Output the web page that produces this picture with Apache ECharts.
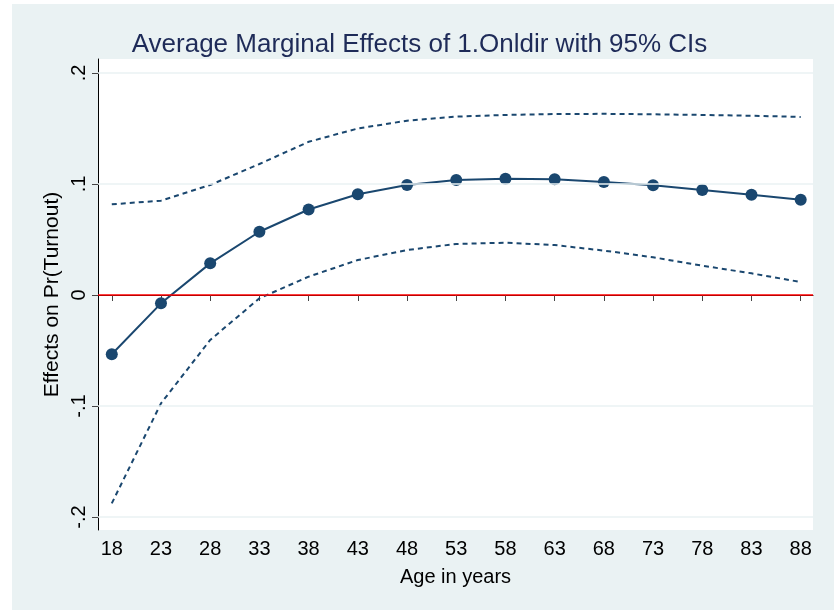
<!DOCTYPE html>
<html>
<head>
<meta charset="utf-8">
<script src="https://cdn.jsdelivr.net/npm/echarts@6/dist/echarts.min.js"></script>
<style>
html,body{margin:0;padding:0;background:#ffffff;}
#bg{position:absolute;left:12px;top:4px;width:822px;height:606px;background:#EAF2F3;}
#chart{position:absolute;left:0;top:0;width:839px;height:610px;}
</style>
</head>
<body>
<div id="bg"></div>
<div id="chart"></div>
<script>
const ages = [18, 23, 28, 33, 38, 43, 48, 53, 58, 63, 68, 73, 78, 83, 88];
const effect = [-0.0534, -0.0075, 0.0285, 0.057, 0.077, 0.0907, 0.0991, 0.1036, 0.1048, 0.1042, 0.1018, 0.0988, 0.0946, 0.0904, 0.0859];
const upperCI = [0.0817, 0.085, 0.0991, 0.118, 0.138, 0.150, 0.157, 0.1607, 0.1622, 0.163, 0.1632, 0.1628, 0.1622, 0.1615, 0.1604];
const lowerCI = [-0.1877, -0.0976, -0.0405, -0.003, 0.0165, 0.0315, 0.0405, 0.046, 0.0471, 0.045, 0.040, 0.034, 0.0264, 0.0195, 0.0117];
const yTicks = [-0.2, -0.1, 0, 0.1, 0.2];
const xTicks = [18, 23, 28, 33, 38, 43, 48, 53, 58, 63, 68, 73, 78, 83, 88];

const navy = '#1a476f';
const pair = (xs, ys) => xs.map((x, i) => [x, ys[i]]);
const fmtY = v => {
  const r = Math.round(v * 10) / 10;
  if (r === 0) return '0';
  return (r < 0 ? '-' : '') + String(Math.abs(r)).replace(/^0/, '');
};
const font = 'Liberation Sans, Arial, sans-serif';

const chart = echarts.init(document.getElementById('chart'), null, {renderer: 'canvas'});
chart.setOption({
  animation: false,
  backgroundColor: 'transparent',
  textStyle: {fontFamily: font},
  title: {
    text: 'Average Marginal Effects of 1.Onldir with 95% CIs',
    left: 'center',
    top: 27,
    textStyle: {fontSize: 26, fontWeight: 'normal', color: '#1e2b58', fontFamily: font}
  },
  grid: {left: 98, right: 26, top: 59, bottom: 80, show: true, backgroundColor: '#ffffff', borderWidth: 0},
  xAxis: {
    type: 'value',
    min: 16.6,
    max: 89.25,
    name: 'Age in years',
    nameLocation: 'middle',
    nameGap: 37,
    nameMoveOverlap: false,
    nameTextStyle: {fontSize: 20, color: '#000', fontFamily: font},
    axisLine: {show: true, lineStyle: {color: '#000', width: 1}},
    axisTick: {show: true, length: 6, customValues: xTicks, lineStyle: {color: '#444'}},
    axisLabel: {customValues: xTicks, fontSize: 20, color: '#000', margin: 9, fontFamily: font},
    splitLine: {show: false}
  },
  yAxis: {
    type: 'value',
    min: -0.2117,
    max: 0.2126,
    name: 'Effects on Pr(Turnout)',
    nameLocation: 'middle',
    nameGap: 35,
    nameMoveOverlap: false,
    nameTextStyle: {fontSize: 21, color: '#000', fontFamily: font},
    axisLine: {show: true, lineStyle: {color: '#000', width: 1}},
    axisTick: {show: true, length: 6, customValues: yTicks, lineStyle: {color: '#444'}},
    axisLabel: {customValues: yTicks, fontSize: 20, color: '#000', rotate: 90, margin: 9, formatter: fmtY, fontFamily: font},
    splitLine: {show: false}
  },
  series: [
    {
      type: 'line', data: pair(ages, upperCI), symbol: 'none', smooth: false,
      lineStyle: {color: navy, width: 2, type: [5, 4]}, z: 3
    },
    {
      type: 'line', data: pair(ages, lowerCI), symbol: 'none', smooth: false,
      lineStyle: {color: navy, width: 2, type: [5, 4]}, z: 3
    },
    {
      type: 'line', data: pair(ages, effect), symbol: 'circle', symbolSize: 12,
      itemStyle: {color: navy}, lineStyle: {color: navy, width: 2}, z: 4,
      markLine: {
        silent: true, symbol: 'none', label: {show: false}, animation: false,
        data: [
          {yAxis: 0.2, lineStyle: {color: '#EAF2F3', width: 1.5, type: 'solid'}},
          {yAxis: 0.1, lineStyle: {color: '#EAF2F3', width: 1.5, type: 'solid'}},
          {yAxis: -0.1, lineStyle: {color: '#EAF2F3', width: 1.5, type: 'solid'}},
          {yAxis: -0.2, lineStyle: {color: '#EAF2F3', width: 1.5, type: 'solid'}},
          {yAxis: 0, lineStyle: {color: '#ff0000', width: 1.5, type: 'solid'}}
        ]
      }
    }
  ]
});
</script>
</body>
</html>
